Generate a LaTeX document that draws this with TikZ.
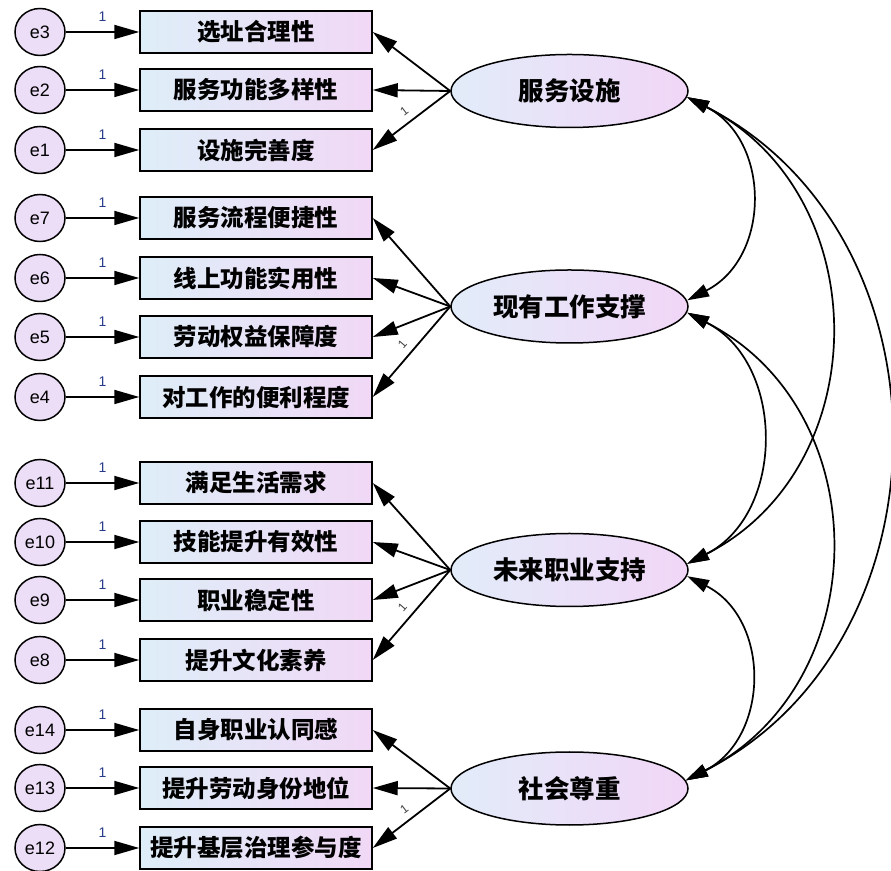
\documentclass[tikz,border=0pt]{standalone}
\usepackage{fontspec}
\setmainfont{Liberation Sans}
\newfontfamily\cjk{Noto Sans CJK SC}
\usetikzlibrary{arrows.meta,shapes.geometric}
\definecolor{rectL}{RGB}{222,238,248}
\definecolor{rectR}{RGB}{241,216,246}
\definecolor{errC}{RGB}{237,222,247}
\definecolor{latL}{RGB}{226,236,249}
\definecolor{latR}{RGB}{241,214,247}
\definecolor{oneC}{RGB}{40,60,140}
\begin{document}
\begin{tikzpicture}[x=1pt,y=1pt,
 ind/.style={draw=black, line width=1.5pt, minimum width=232pt, minimum height=42pt, inner sep=0pt, left color=rectL, right color=rectR, font=\cjk\bfseries\fontsize{23.5}{28}\selectfont},
 err/.style={ellipse, draw=black, line width=1.5pt, minimum width=50pt, minimum height=47pt, inner sep=0pt, fill=errC, font=\fontsize{18}{20}\selectfont},
 lat/.style={ellipse, draw=black, line width=1.5pt, minimum width=237pt, minimum height=73pt, inner sep=0pt, left color=latL, right color=latR, font=\cjk\bfseries\fontsize{25.5}{30}\selectfont},
 arr/.style={line width=1.8pt, -{Triangle[length=25pt,width=14pt]}},
 cov/.style={line width=1.7pt, {Triangle[length=22pt,width=13pt]}-{Triangle[length=22pt,width=13pt]}},
 one/.style={font=\fontsize{14}{16}\selectfont, text=oneC, inner sep=0pt},
 lone/.style={font=\fontsize{12}{14}\selectfont, text=black!75, inner sep=0pt}]
\useasboundingbox (0,0) rectangle (891,870);

% error terms and indicators
\node[err] (e3) at (40,838) {e3};   \node[ind] (r3) at (256,838) {选址合理性};
\node[err] (e2) at (40,780) {e2};   \node[ind] (r2) at (256,780) {服务功能多样性};
\node[err] (e1) at (40,720) {e1};   \node[ind] (r1) at (256,720) {设施完善度};
\node[err] (e7) at (40,652) {e7};   \node[ind] (r7) at (256,652) {服务流程便捷性};
\node[err] (e6) at (40,592) {e6};   \node[ind] (r6) at (256,592) {线上功能实用性};
\node[err] (e5) at (40,533) {e5};   \node[ind] (r5) at (256,533) {劳动权益保障度};
\node[err] (e4) at (40,473) {e4};   \node[ind] (r4) at (256,473) {对工作的便利程度};
\node[err] (e11) at (40,387) {e11}; \node[ind] (r11) at (256,387) {满足生活需求};
\node[err] (e10) at (40,328) {e10}; \node[ind] (r10) at (256,328) {技能提升有效性};
\node[err] (e9) at (40,270) {e9};   \node[ind] (r9) at (256,270) {职业稳定性};
\node[err] (e8) at (40,210) {e8};   \node[ind] (r8) at (256,210) {提升文化素养};
\node[err] (e14) at (40,140) {e14}; \node[ind] (r14) at (256,140) {自身职业认同感};
\node[err] (e13) at (40,82) {e13};  \node[ind] (r13) at (256,82) {提升劳动身份地位};
\node[err] (e12) at (40,22) {e12};  \node[ind] (r12) at (256,22) {提升基层治理参与度};

% latent factors
\node[lat] (f1) at (569.5,779) {服务设施};
\node[lat] (f2) at (569.5,563.5) {现有工作支撑};
\node[lat] (f3) at (569.5,300) {未来职业支持};
\node[lat] (f4) at (569.5,81.5) {社会尊重};

% error arrows
\foreach \i in {1,...,14} {
  \draw[arr] (e\i.east) -- node[one, yshift=15pt]{1} (r\i.west);
}

% loadings
\draw[arr] (f1.west) -- (r3.east);
\draw[arr] (f1.west) -- (r2.east);
\draw[arr] (f1.west) -- node[lone, sloped, pos=0.5, above=7pt]{1} (r1.east);
\draw[arr] (f2.west) -- (r7.east);
\draw[arr] (f2.west) -- (r6.east);
\draw[arr] (f2.west) -- (r5.east);
\draw[arr] (f2.west) -- node[lone, sloped, pos=0.5, above=7pt]{1} (r4.east);
\draw[arr] (f3.west) -- (r11.east);
\draw[arr] (f3.west) -- (r10.east);
\draw[arr] (f3.west) -- (r9.east);
\draw[arr] (f3.west) -- node[lone, sloped, pos=0.5, above=7pt]{1} (r8.east);
\draw[arr] (f4.west) -- (r14.east);
\draw[arr] (f4.west) -- (r13.east);
\draw[arr] (f4.west) -- node[lone, sloped, pos=0.5, above=7pt]{1} (r12.east);

% covariances
\draw[cov] (f1.-3.5) to[out=-27,in=27,looseness=1.19] (f2.3.5);
\draw[cov] (f1.-3.5) to[out=-27,in=27,looseness=1.17] (f3.3.5);
\draw[cov] (f1.-3.5) to[out=-27,in=27,looseness=1.13] (f4.4.2);
\draw[cov] (f2.-3.5) to[out=-27,in=27,looseness=1.13] (f3.3.5);
\draw[cov] (f2.-3.5) to[out=-27,in=27,looseness=1.17] (f4.4.2);
\draw[cov] (f3.-3.5) to[out=-27,in=27,looseness=1.18] (f4.4.2);
\end{tikzpicture}
\end{document}
